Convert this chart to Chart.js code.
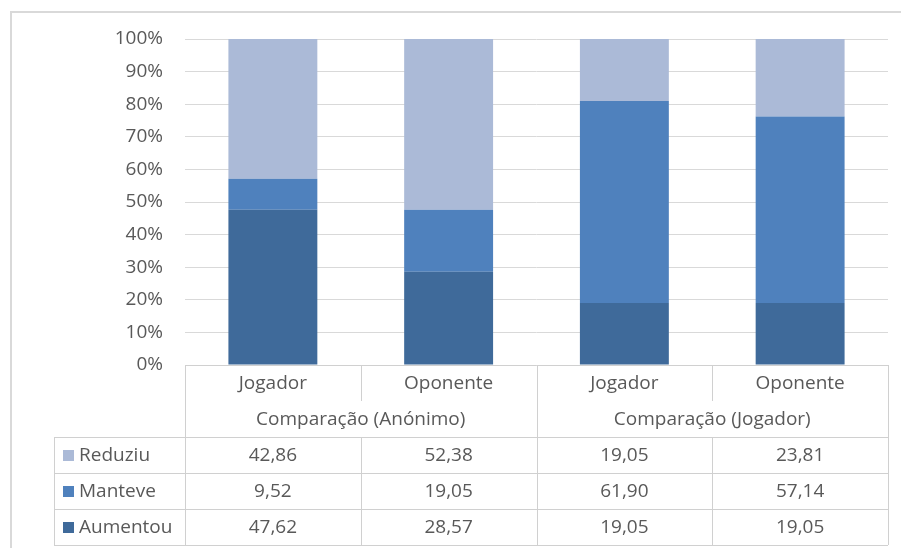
<!DOCTYPE html>
<html lang="pt">
<head>
<meta charset="utf-8">
<script src="https://cdn.jsdelivr.net/npm/chart.js@4.4.1/dist/chart.umd.min.js"></script>
<style>
  html, body { margin: 0; padding: 0; background: #fff; }
  #wrap { width: 901px; height: 548px; }
</style>
</head>
<body>
<div id="wrap"><canvas id="myChart" width="901" height="548"></canvas></div>
<script>
// dados do gráfico
const categories = ["Jogador", "Oponente", "Jogador", "Oponente"];
const groups = ["Comparação (Anónimo)", "Comparação (Jogador)"];
const yTicks = [0, 10, 20, 30, 40, 50, 60, 70, 80, 90, 100];

const aumentou = [47.62, 28.57, 19.05, 19.05];
const manteve = [9.52, 19.05, 61.9, 57.14];
const reduziu = [42.86, 52.38, 19.05, 23.81];

const seriesNames = ["Aumentou", "Manteve", "Reduziu"];
const seriesColors = ["#3f6a9a", "#4f81bd", "#abbad7"];

const textColor = "#595959";
const lineColor = "#d9d9d9";
const fontFamily = "'Open Sans', Lato, sans-serif";
const fontSize = 19;

// formata 42.86 -> "42,86"
const fmt = (v) => v.toFixed(2).replace(".", ",");

// moldura do gráfico
const framePlugin = {
  id: "frame",
  beforeDraw(chart) {
    const ctx = chart.ctx;
    ctx.save();
    ctx.strokeStyle = lineColor;
    ctx.lineWidth = 2;
    ctx.beginPath();
    ctx.moveTo(11, 548);
    ctx.lineTo(11, 12);
    ctx.lineTo(901, 12);
    ctx.stroke();
    ctx.restore();
  },
};

// tabela de dados por baixo das barras
const tablePlugin = {
  id: "dataTable",
  afterDraw(chart) {
    const ctx = chart.ctx;
    const x = chart.scales.x;
    const area = chart.chartArea;
    const half = (x.right - x.left) / categories.length / 2;
    const rowH = 36;
    const top = area.bottom;
    const legendLeft = area.left - 131;
    const rows = [
      { name: seriesNames[2], data: reduziu, color: seriesColors[2] },
      { name: seriesNames[1], data: manteve, color: seriesColors[1] },
      { name: seriesNames[0], data: aumentou, color: seriesColors[0] },
    ];
    const dataTop = top + rowH * 2;
    const bottom = dataTop + rowH * rows.length;

    ctx.save();
    ctx.strokeStyle = "#d0d0d0";
    ctx.lineWidth = 1;
    ctx.beginPath();
    // linhas horizontais
    ctx.moveTo(area.left, top + 0.5);
    ctx.lineTo(area.right, top + 0.5);
    for (let r = 0; r <= rows.length; r++) {
      const y = Math.round(dataTop + r * rowH) + 0.5;
      ctx.moveTo(legendLeft, y);
      ctx.lineTo(area.right, y);
    }
    // linhas verticais
    ctx.moveTo(legendLeft + 0.5, dataTop);
    ctx.lineTo(legendLeft + 0.5, bottom);
    for (let i = 0; i <= categories.length; i++) {
      const xx = Math.round(x.getPixelForValue(i) - half) + 0.5;
      if (i % 2 === 0) {
        ctx.moveTo(xx, top);
        ctx.lineTo(xx, bottom);
      } else {
        ctx.moveTo(xx, top);
        ctx.lineTo(xx, top + rowH);
        ctx.moveTo(xx, dataTop);
        ctx.lineTo(xx, bottom);
      }
    }
    ctx.stroke();

    ctx.fillStyle = textColor;
    ctx.font = fontSize + "px " + fontFamily;
    ctx.textAlign = "center";
    ctx.textBaseline = "middle";
    categories.forEach((c, i) => {
      ctx.fillText(c, x.getPixelForValue(i), top + rowH / 2 + 1);
    });
    groups.forEach((g, j) => {
      const cx = (x.getPixelForValue(j * 2) + x.getPixelForValue(j * 2 + 1)) / 2;
      ctx.fillText(g, cx, top + rowH * 1.5 + 1);
    });

    rows.forEach((row, r) => {
      const cy = dataTop + r * rowH + rowH / 2 + 1;
      ctx.textAlign = "center";
      ctx.fillStyle = textColor;
      row.data.forEach((v, i) => {
        ctx.fillText(fmt(v), x.getPixelForValue(i), cy);
      });
      ctx.fillStyle = row.color;
      ctx.fillRect(legendLeft + 9, cy - 6, 11, 11);
      ctx.fillStyle = textColor;
      ctx.textAlign = "left";
      ctx.fillText(row.name, legendLeft + 25, cy);
    });
    ctx.restore();
  },
};

const ctx = document.getElementById("myChart");

new Chart(ctx, {
  type: "bar",
  data: {
    labels: categories,
    datasets: [
      { label: seriesNames[0], data: aumentou, backgroundColor: seriesColors[0] },
      { label: seriesNames[1], data: manteve, backgroundColor: seriesColors[1] },
      { label: seriesNames[2], data: reduziu, backgroundColor: seriesColors[2] },
    ],
  },
  options: {
    responsive: false,
    animation: false,
    datasets: {
      bar: { categoryPercentage: 1, barPercentage: 0.506 },
    },
    layout: {
      padding: { left: 0, top: 39, right: 13, bottom: 183 },
    },
    plugins: {
      legend: { display: false },
      tooltip: { enabled: false },
    },
    scales: {
      x: {
        stacked: true,
        display: false,
      },
      y: {
        stacked: true,
        min: 0,
        max: 100,
        afterBuildTicks: (scale) => {
          scale.ticks = yTicks.map((v) => ({ value: v }));
        },
        afterFit: (scale) => {
          scale.width = 185;
        },
        border: { display: false },
        grid: { color: lineColor, drawTicks: false },
        ticks: {
          padding: 22,
          color: textColor,
          font: { family: fontFamily, size: fontSize },
          callback: (v) => v + "%",
        },
      },
    },
  },
  plugins: [framePlugin, tablePlugin],
});
</script>
</body>
</html>
